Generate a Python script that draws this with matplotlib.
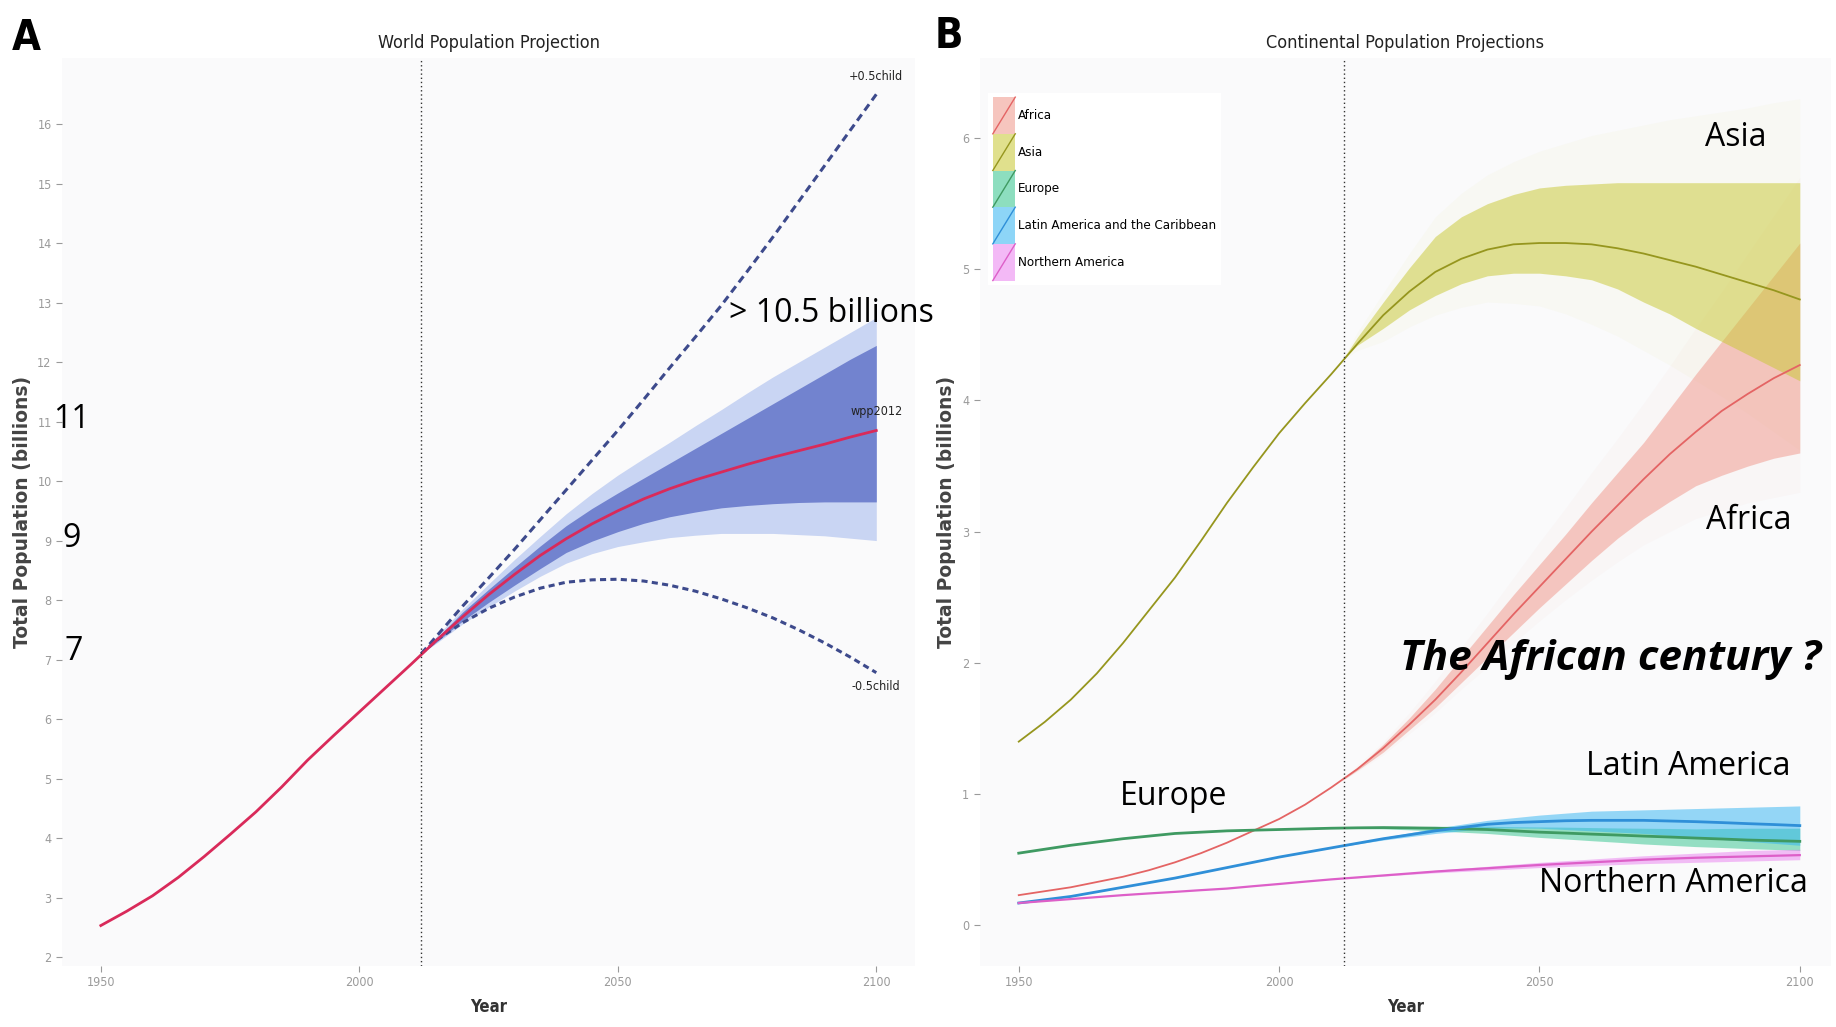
import matplotlib
matplotlib.use('Agg')
import matplotlib.pyplot as plt
from matplotlib.patches import Patch, Rectangle
from matplotlib.lines import Line2D
from matplotlib.legend_handler import HandlerBase

# ---- data (billions) ----
years = list(range(1950, 2101, 5))
proj_years = [2012] + list(range(2015, 2101, 5))

# panel A: world
world = [2.53, 2.77, 3.03, 3.34, 3.69, 4.06, 4.44, 4.86, 5.31, 5.72, 6.12, 6.52, 6.92, 7.33, 7.72, 8.09,
         8.43, 8.75, 9.03, 9.28, 9.50, 9.70, 9.87, 10.02, 10.15, 10.28, 10.40, 10.51, 10.62, 10.74, 10.85]
world_lo80 = [7.10, 7.30, 7.65, 7.96, 8.25, 8.53, 8.80, 8.99, 9.15, 9.29, 9.40, 9.48, 9.55, 9.59, 9.62, 9.64, 9.65, 9.65, 9.65]
world_hi80 = [7.10, 7.36, 7.80, 8.18, 8.55, 8.91, 9.25, 9.54, 9.80, 10.05, 10.30, 10.55, 10.80, 11.05, 11.30, 11.55, 11.80, 12.05, 12.28]
world_lo95 = [7.10, 7.28, 7.60, 7.88, 8.15, 8.40, 8.62, 8.78, 8.90, 8.98, 9.05, 9.09, 9.12, 9.12, 9.12, 9.10, 9.08, 9.04, 9.00]
world_hi95 = [7.10, 7.40, 7.85, 8.27, 8.68, 9.07, 9.45, 9.79, 10.10, 10.38, 10.65, 10.93, 11.20, 11.48, 11.75, 12.00, 12.25, 12.50, 12.75]
plus_half = [7.10, 7.40, 7.90, 8.37, 8.85, 9.35, 9.85, 10.35, 10.85, 11.37, 11.90, 12.42, 12.95, 13.52, 14.10, 14.70, 15.30, 15.90, 16.50]
minus_half = [7.10, 7.33, 7.62, 7.86, 8.05, 8.20, 8.30, 8.34, 8.35, 8.32, 8.25, 8.15, 8.02, 7.87, 7.70, 7.50, 7.28, 7.04, 6.78]

# panel B: continents
regions = ['Africa', 'Asia', 'Europe', 'Latin America and the Caribbean', 'Northern America']
colors = ['#f0968a', '#c8c830', '#2fc48c', '#2fb4f2', '#ea80f0']
line_colors = ['#e46464', '#96961e', '#3f9a62', '#2f8fd8', '#dd5fc8']
africa = [0.23, 0.26, 0.29, 0.33, 0.37, 0.42, 0.48, 0.55, 0.63, 0.72, 0.81, 0.92, 1.05, 1.19, 1.35, 1.53,
          1.72, 1.93, 2.15, 2.37, 2.58, 2.79, 3.00, 3.20, 3.40, 3.59, 3.76, 3.92, 4.05, 4.17, 4.27]
asia = [1.40, 1.55, 1.72, 1.92, 2.15, 2.40, 2.65, 2.93, 3.22, 3.49, 3.75, 3.98, 4.20, 4.43, 4.65, 4.83,
        4.98, 5.08, 5.15, 5.19, 5.20, 5.20, 5.19, 5.16, 5.12, 5.07, 5.02, 4.96, 4.90, 4.84, 4.77]
europe = [0.55, 0.58, 0.61, 0.635, 0.66, 0.68, 0.70, 0.71, 0.72, 0.725, 0.73, 0.735, 0.74, 0.743, 0.745, 0.743,
          0.74, 0.735, 0.73, 0.72, 0.71, 0.703, 0.695, 0.688, 0.68, 0.673, 0.665, 0.658, 0.65, 0.645, 0.64]
latam = [0.17, 0.195, 0.22, 0.255, 0.29, 0.325, 0.36, 0.40, 0.44, 0.48, 0.52, 0.555, 0.59, 0.625, 0.66, 0.69,
         0.72, 0.745, 0.77, 0.783, 0.79, 0.797, 0.80, 0.80, 0.80, 0.795, 0.79, 0.783, 0.775, 0.768, 0.76]
namerica = [0.17, 0.185, 0.20, 0.215, 0.23, 0.243, 0.255, 0.268, 0.28, 0.298, 0.315, 0.333, 0.35, 0.365, 0.38, 0.395,
            0.41, 0.423, 0.435, 0.448, 0.46, 0.47, 0.48, 0.49, 0.50, 0.508, 0.515, 0.52, 0.525, 0.53, 0.535]

africa_lo80 = [1.10, 1.18, 1.32, 1.49, 1.66, 1.85, 2.04, 2.23, 2.42, 2.60, 2.78, 2.95, 3.10, 3.23, 3.35, 3.43, 3.50, 3.56, 3.60]
africa_hi80 = [1.10, 1.20, 1.38, 1.58, 1.80, 2.04, 2.28, 2.52, 2.75, 2.98, 3.22, 3.45, 3.68, 3.94, 4.20, 4.45, 4.70, 4.95, 5.20]
asia_lo80 = [4.30, 4.42, 4.55, 4.69, 4.80, 4.89, 4.95, 4.97, 4.97, 4.95, 4.92, 4.85, 4.75, 4.66, 4.55, 4.45, 4.35, 4.25, 4.15]
asia_hi80 = [4.30, 4.48, 4.75, 5.01, 5.25, 5.40, 5.50, 5.57, 5.62, 5.64, 5.65, 5.66, 5.66, 5.66, 5.66, 5.66, 5.66, 5.66, 5.66]
europe_lo80 = [0.74, 0.738, 0.735, 0.728, 0.72, 0.71, 0.70, 0.685, 0.67, 0.658, 0.645, 0.633, 0.62, 0.61, 0.60, 0.593, 0.585, 0.578, 0.57]
europe_hi80 = [0.74, 0.745, 0.75, 0.752, 0.755, 0.755, 0.755, 0.752, 0.75, 0.748, 0.745, 0.742, 0.74, 0.738, 0.735, 0.738, 0.74, 0.74, 0.74]
latam_lo80 = [0.60, 0.62, 0.65, 0.675, 0.70, 0.72, 0.74, 0.742, 0.74, 0.73, 0.72, 0.71, 0.70, 0.685, 0.67, 0.655, 0.64, 0.625, 0.61]
latam_hi80 = [0.60, 0.63, 0.67, 0.705, 0.74, 0.77, 0.80, 0.82, 0.84, 0.855, 0.87, 0.875, 0.88, 0.885, 0.89, 0.895, 0.90, 0.905, 0.91]
namerica_lo80 = [0.355, 0.362, 0.375, 0.388, 0.40, 0.41, 0.42, 0.43, 0.44, 0.448, 0.455, 0.463, 0.47, 0.475, 0.48, 0.485, 0.49, 0.495, 0.50]
namerica_hi80 = [0.355, 0.366, 0.385, 0.402, 0.42, 0.435, 0.45, 0.465, 0.48, 0.493, 0.505, 0.518, 0.53, 0.54, 0.55, 0.56, 0.57, 0.575, 0.58]
asia_lo95 = [4.30, 4.38, 4.45, 4.56, 4.65, 4.71, 4.75, 4.74, 4.72, 4.66, 4.58, 4.49, 4.38, 4.27, 4.15, 4.03, 3.90, 3.76, 3.62]
asia_hi95 = [4.30, 4.52, 4.82, 5.12, 5.40, 5.58, 5.72, 5.82, 5.90, 5.96, 6.02, 6.06, 6.10, 6.14, 6.17, 6.20, 6.23, 6.27, 6.30]
africa_lo95 = [1.10, 1.17, 1.30, 1.46, 1.62, 1.80, 1.97, 2.15, 2.32, 2.48, 2.63, 2.77, 2.90, 3.00, 3.10, 3.16, 3.22, 3.26, 3.30]
africa_hi95 = [1.10, 1.22, 1.40, 1.62, 1.86, 2.12, 2.38, 2.65, 2.92, 3.18, 3.45, 3.71, 3.98, 4.26, 4.55, 4.83, 5.12, 5.41, 5.70]

NARROW = ['Liberation Sans Narrow', 'DejaVu Sans']
TICKC = '#9a9a9a'


def style_axes(ax):
    ax.set_facecolor('#fafafb')
    for s in ax.spines.values():
        s.set_visible(False)
    ax.tick_params(axis='both', color=TICKC, labelcolor=TICKC, length=4, width=0.8, labelsize=9)
    for lab in ax.get_xticklabels() + ax.get_yticklabels():
        lab.set_family(NARROW)
        lab.set_stretch('condensed')
    ax.set_xlabel('Year', fontsize=12, family=NARROW, stretch='condensed', fontweight='bold',
                  color='#333333', labelpad=6)
    ax.set_ylabel('Total Population (billions)', fontsize=13.5, fontweight='bold', color='#444444', labelpad=4)


class DiagKey(HandlerBase):
    # ggplot-style key: filled box with a diagonal line
    def create_artists(self, legend, orig_handle, xdescent, ydescent, width, height, fontsize, trans):
        x0, y0 = -xdescent, -ydescent
        r = Rectangle((x0, y0), width, height, facecolor=orig_handle.get_facecolor(),
                      edgecolor='none', transform=trans)
        ln = Line2D([x0, x0 + width], [y0, y0 + height], color=orig_handle.get_edgecolor(),
                    lw=1, transform=trans)
        return [r, ln]


fig = plt.figure(figsize=(18.36, 10.27), dpi=100)

# ---------------- panel A ----------------
ax = fig.add_axes([0.0338, 0.0594, 0.4646, 0.8841])
ax.fill_between(proj_years, world_lo95, world_hi95, color='#c9d5f3', lw=0)
ax.fill_between(proj_years, world_lo80, world_hi80, color='#7283cf', lw=0)
ax.plot(proj_years, plus_half, color='#3d4a8c', lw=2.2, ls=(0, (2.5, 1.6)))
ax.plot(proj_years, minus_half, color='#3d4a8c', lw=2.2, ls=(0, (2.0, 1.4)))
ax.plot(years, world, color='#d92a5a', lw=2)
ax.axvline(2012, color='#333333', lw=1, ls=(0, (1, 2)))
for yv, s in [(16.8, '+0.5child'), (11.17, 'wpp2012'), (6.55, '-0.5child')]:
    ax.text(2100, yv, s, ha='center', va='center', fontsize=9, family=NARROW, stretch='condensed', color='#222222')
ax.set_xlim(1942.5, 2107.5)
ax.set_ylim(1.85, 17.11)
ax.set_xticks([1950, 2000, 2050, 2100])
ax.set_yticks(range(2, 17))
ax.set_title('World Population Projection', fontsize=13, family=NARROW, stretch='condensed',
             color='#222222', pad=7)
style_axes(ax)

# ---------------- panel B ----------------
bx = fig.add_axes([0.5336, 0.0594, 0.4637, 0.8841])
medians = [africa, asia, europe, latam, namerica]
lo80 = [africa_lo80, asia_lo80, europe_lo80, latam_lo80, namerica_lo80]
hi80 = [africa_hi80, asia_hi80, europe_hi80, latam_hi80, namerica_hi80]
bx.fill_between(proj_years, asia_lo95, asia_hi95, color=colors[1], alpha=0.035, lw=0)
bx.fill_between(proj_years, africa_lo95, africa_hi95, color=colors[0], alpha=0.04, lw=0)
for lo, hi, c in zip(lo80, hi80, colors):
    bx.fill_between(proj_years, lo, hi, color=c, alpha=0.5, lw=0)
widths = [1.3, 1.3, 2.0, 2.0, 1.6]
for med, c, w in zip(medians, line_colors, widths):
    bx.plot(years, med, color=c, lw=w)
bx.axvline(2012.5, color='#333333', lw=1, ls=(0, (1, 2)))
bx.set_xlim(1942.5, 2106.0)
bx.set_ylim(-0.31, 6.61)
bx.set_xticks([1950, 2000, 2050, 2100])
bx.set_yticks(range(0, 7))
bx.set_title('Continental Population Projections', fontsize=13, family=NARROW, stretch='condensed',
             color='#222222', pad=7)
style_axes(bx)

handles = [Patch(facecolor=matplotlib.colors.to_rgba(c, 0.55), edgecolor=lc) for c, lc in zip(colors, line_colors)]
leg = bx.legend(handles, regions, handler_map={Patch: DiagKey()}, loc='upper left',
                bbox_to_anchor=(0.01, 0.962), borderaxespad=0, frameon=True, fancybox=False,
                handlelength=1.7, handleheight=3.9, labelspacing=0, handletextpad=0.2,
                borderpad=0.35, prop={'family': NARROW, 'size': 9.5, 'stretch': 'condensed'})
leg.get_frame().set_facecolor('white')
leg.get_frame().set_edgecolor('none')
leg.get_frame().set_alpha(1)

# ---------------- panel letters & overlay notes ----------------
fig.text(0.0065, 0.963, 'A', fontsize=30, family=NARROW, stretch='condensed', fontweight='bold',
         ha='left', va='center')
fig.text(0.5088, 0.965, 'B', fontsize=30, family=NARROW, stretch='condensed', fontweight='bold',
         ha='left', va='center')

OV = ['Open Sans', 'DejaVu Sans']
fig.text(0.3971, 0.6952, '> 10.5 billions', fontsize=23, family=OV, ha='left', va='center')
fig.text(0.0289, 0.5920, '11', fontsize=23, family=OV, ha='left', va='center')
fig.text(0.0338, 0.4752, '9', fontsize=23, family=OV, ha='left', va='center')
fig.text(0.0349, 0.3652, '7', fontsize=23, family=OV, ha='left', va='center')
fig.text(0.9455, 0.8666, 'Asia', fontsize=23, family=OV, ha='center', va='center')
fig.text(0.9526, 0.4927, 'Africa', fontsize=23, family=OV, ha='center', va='center')
fig.text(0.9918, 0.3583, 'The African century ?', fontsize=30.5, family=OV, fontweight='bold',
         fontstyle='italic', ha='right', va='center')
fig.text(0.9194, 0.2541, 'Latin America', fontsize=23, family=OV, ha='center', va='center')
fig.text(0.6394, 0.2240, 'Europe', fontsize=23, family=OV, ha='center', va='center')
fig.text(0.9112, 0.1402, 'Northern America', fontsize=23, family=OV, ha='center', va='center')

fig.savefig('out.png', dpi=100, facecolor='white')
